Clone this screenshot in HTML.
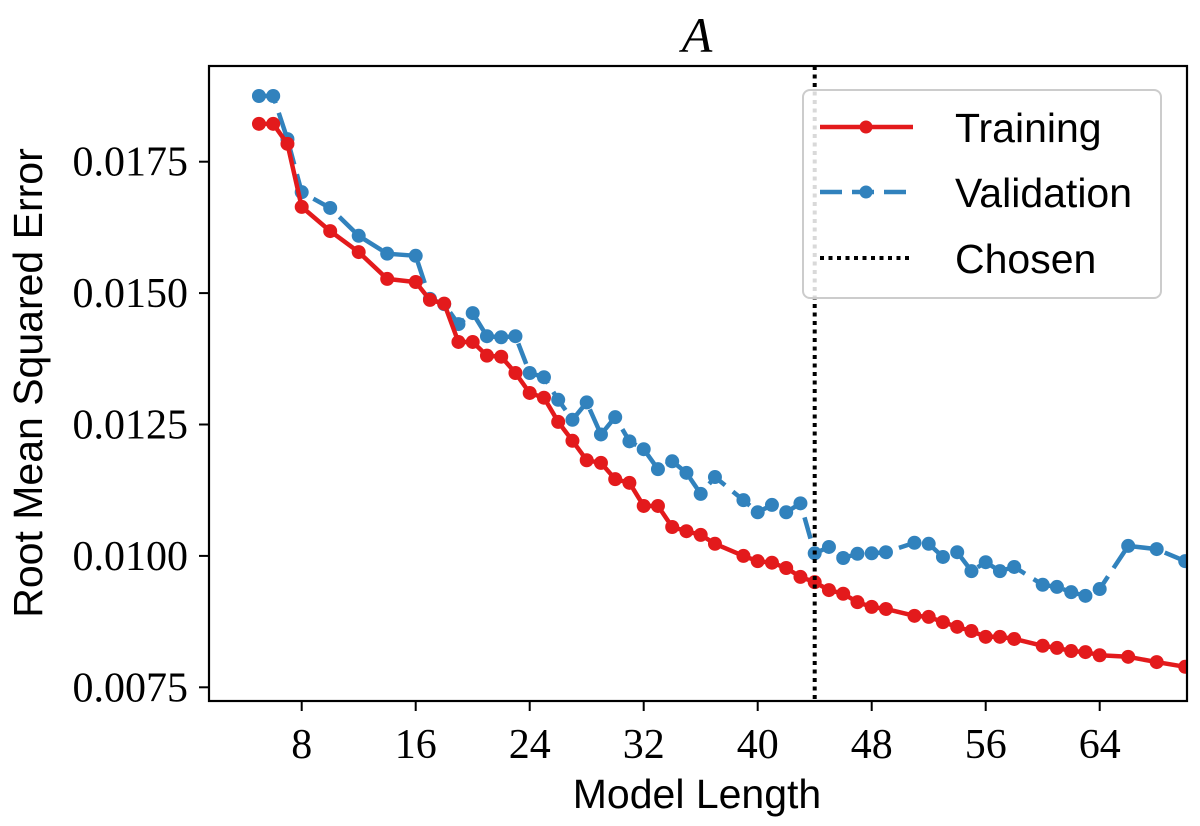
<!DOCTYPE html>
<html><head><meta charset="utf-8"><style>
html,body{margin:0;padding:0;background:#fff;}
svg{display:block;}
.tick{font-family:"Liberation Serif",serif;font-size:42px;fill:#000;}
.lab{font-family:"Liberation Sans",sans-serif;font-size:41px;fill:#000;}
</style></head><body>
<svg id="chart" width="1200" height="826" viewBox="0 0 1200 826" xmlns="http://www.w3.org/2000/svg">
<defs><clipPath id="plotclip"><rect x="209" y="66" width="978" height="635"/></clipPath></defs>
<text x="697" y="52" text-anchor="middle" font-family="Liberation Serif, serif" font-style="italic" font-size="50">A</text>
<text class="lab" transform="translate(42,383) rotate(-90)" text-anchor="middle">Root Mean Squared Error</text>
<text class="lab" x="697" y="808" text-anchor="middle">Model Length</text>
<g id="xticks"></g>
<g id="yticks"></g>
<g id="series" clip-path="url(#plotclip)"></g>
<rect x="209" y="66" width="978" height="635" fill="none" stroke="#000" stroke-width="2.2"/>
<g>
<rect x="803" y="90" width="358" height="208" rx="7" fill="#fff" fill-opacity="0.85" stroke="#ccc" stroke-width="2"/>
<g>
<line x1="820" y1="127" x2="913" y2="127" stroke="#e31a1c" stroke-width="4.5"/>
<circle cx="866" cy="127" r="6.5" fill="#e31a1c"/>
<text class="lab" x="955" y="142">Training</text></g>
<g>
<line x1="820" y1="192" x2="913" y2="192" stroke="#3182bd" stroke-width="4.5" stroke-dasharray="22,10"/>
<circle cx="866" cy="192" r="6.5" fill="#3182bd"/>
<text class="lab" x="955" y="207">Validation</text></g>
<g>
<line x1="820" y1="258" x2="913" y2="258" stroke="#000" stroke-width="4" stroke-dasharray="4,4.5"/>
<text class="lab" x="955" y="273">Chosen</text></g>
</g>
</svg>
<script>
const modelLengths=[5,6,7,8,10,12,14,16,17,18,19,20,21,22,23,24,25,26,27,28,29,30,31,32,33,34,35,36,37,39,40,41,42,43,44,45,46,47,48,49,51,52,53,54,55,56,57,58,60,61,62,63,64,66,68,70];
const trainingRmse=[.01822,.01822,.01784,.01664,.01618,.01578,.01527,.01521,.01487,.0148,.01407,.01407,.01381,.01379,.01348,.0131,.01301,.01255,.01219,.01182,.01177,.01146,.01139,.01095,.01095,.01055,.01047,.0104,.01023,.0100,.0099,.00987,.00977,.0096,.0095,.00935,.00928,.00912,.00903,.00899,.00886,.00884,.00874,.00865,.00857,.00846,.00846,.00842,.00829,.00825,.00819,.00817,.00811,.00808,.00798,.00789];
const validationRmse=[.01875,.01875,.01793,.01692,.01662,.01609,.01575,.01571,.01489,.01479,.01441,.01462,.01418,.01416,.01418,.01348,.0134,.01297,.01259,.01292,.01231,.01264,.01218,.01203,.01165,.0118,.01158,.01118,.0115,.01106,.01083,.01097,.01083,.011,.01005,.01017,.00996,.01004,.01005,.01007,.01025,.01023,.00998,.01007,.00971,.00988,.00971,.00979,.00945,.00941,.00931,.00924,.00937,.01019,.01013,.0099];
const chosenLength=44;
const xTicks=[8,16,24,32,40,48,56,64];
const yTicks=[0.0075,0.0100,0.0125,0.0150,0.0175];
const yTickLabels=["0.0075","0.0100","0.0125","0.0150","0.0175"];

const NS="http://www.w3.org/2000/svg";
function xs(x){return 301.7+(x-8)*14.25;}
function ys(v){return 687.3-(v-0.0075)*52560;}
function mk(tag,attrs,parent){const e=document.createElementNS(NS,tag);for(const k in attrs)e.setAttribute(k,attrs[k]);parent.appendChild(e);return e;}

const xg=document.getElementById('xticks');
xTicks.forEach(t=>{
  const l=mk('line',{x1:xs(t),x2:xs(t),y1:701,y2:711,stroke:'#000','stroke-width':2},xg);
  
  
  const tx=mk('text',{x:xs(t),y:758,'text-anchor':'middle',class:'tick'},xg);
  tx.textContent=t;
  
  
});
const yg=document.getElementById('yticks');
yTicks.forEach((t,i)=>{
  const l=mk('line',{x1:199,x2:209,y1:ys(t),y2:ys(t),stroke:'#000','stroke-width':2},yg);
  
  
  const tx=mk('text',{x:188,y:ys(t)+14,'text-anchor':'end',class:'tick'},yg);
  tx.textContent=yTickLabels[i];
  
  
});
const sg=document.getElementById('series');
function drawSeries(vals,color,dash,name){
  const g=mk('g',{},sg);
  
  
  const pts=modelLengths.map((x,i)=>xs(x).toFixed(1)+','+ys(vals[i]).toFixed(1)).join(' ');
  const p=mk('polyline',{points:pts,fill:'none',stroke:color,'stroke-width':4.5,'stroke-linejoin':'round'},g);
  if(dash)p.setAttribute('stroke-dasharray',dash);
  
  
  modelLengths.forEach((x,i)=>{
    const c=mk('circle',{cx:xs(x),cy:ys(vals[i]),r:7,fill:color},g);
    
    
  });
}
drawSeries(validationRmse,'#3182bd','22,10','validation-series');
drawSeries(trainingRmse,'#e31a1c',null,'training-series');
const ch=mk('line',{x1:xs(chosenLength),x2:xs(chosenLength),y1:66,y2:701,stroke:'#000','stroke-width':4,'stroke-dasharray':'4,4.5'},sg);


</script>
</body></html>
